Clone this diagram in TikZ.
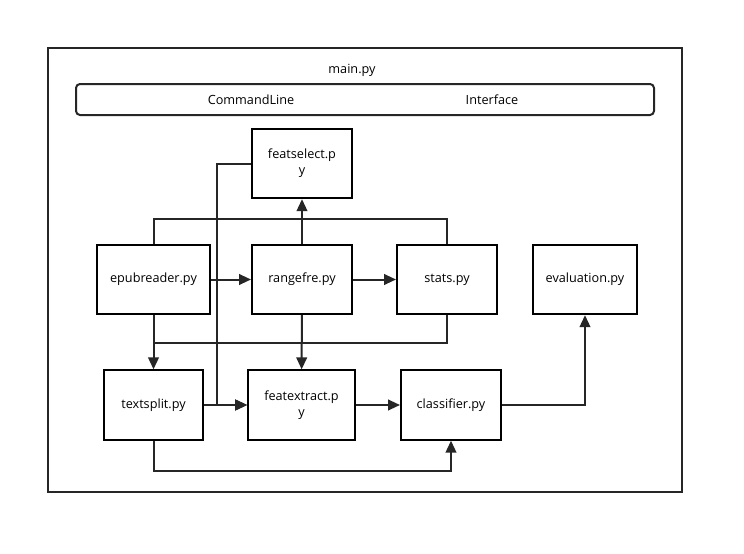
\documentclass[tikz,border=0pt]{standalone}
\usepackage{fontspec}
\setmainfont{Open Sans}
\usetikzlibrary{arrows.meta}
\tikzset{
  module/.style={draw, line width=1.5pt, align=center, font=\fontsize{9.5}{12}\selectfont},
  flow/.style={line width=1.5pt, draw=black!85},
  tip/.style={flow, -{Triangle[length=9pt,width=8pt]}}
}
\begin{document}
\begin{tikzpicture}[x=0.75pt, y=-0.75pt]
\useasboundingbox (0,0) rectangle (744,554);
\draw[line width=1.5pt, draw=black!85] (48,48) rectangle (682,492);
\node[font=\fontsize{9.5}{12}\selectfont] (main) at (352,70) {main.py};
\draw[line width=1.5pt, draw=black!85, rounded corners=3pt] (76,84) rectangle (654,115);
\node[font=\fontsize{9.5}{12}\selectfont] (cmd) at (251,100) {CommandLine};
\node[font=\fontsize{9.5}{12}\selectfont] (ui) at (492,100) {Interface};
\node[module, minimum width=75pt, minimum height=52pt] (fsel) at (302,163.5) {featselect.p\\y};
\node[module, minimum width=85pt, minimum height=52pt] (epub) at (153.5,279.5) {epubreader.py};
\node[module, minimum width=75pt, minimum height=52pt] (range) at (302,279.5) {rangefre.py};
\node[module, minimum width=75pt, minimum height=52pt] (stats) at (447,279.5) {stats.py};
\node[module, minimum width=78pt, minimum height=52pt] (eval) at (585,279.5) {evaluation.py};
\node[module, minimum width=74pt, minimum height=52pt] (split) at (153.5,405) {textsplit.py};
\node[module, minimum width=80pt, minimum height=52pt] (fext) at (301.5,405) {featextract.p\\y};
\node[module, minimum width=75pt, minimum height=52pt] (clf) at (451,405) {classifier.py};
% top row
\draw[tip] (epub) -- (range);
\draw[tip] (range) -- (stats);
\draw[tip] (range) -- (fsel);
\draw[flow] (epub.north) -- ++(0,-25) -| (stats.north);
% down to the second row
\draw[tip] (fsel.west) -- ++(-34,0) |- (fext.west);
\draw[tip] (epub) -- (split);
\draw[flow] (stats.south) -- ++(0,28) -| (epub.south);
\draw[tip] (range) -- (fext);
% bottom row
\draw[tip] (split) -- (fext);
\draw[tip] (fext) -- (clf);
\draw[tip] (split.south) -- ++(0,30) -| (clf.south);
\draw[tip] (clf.east) -| (eval.south);
\end{tikzpicture}
\end{document}
